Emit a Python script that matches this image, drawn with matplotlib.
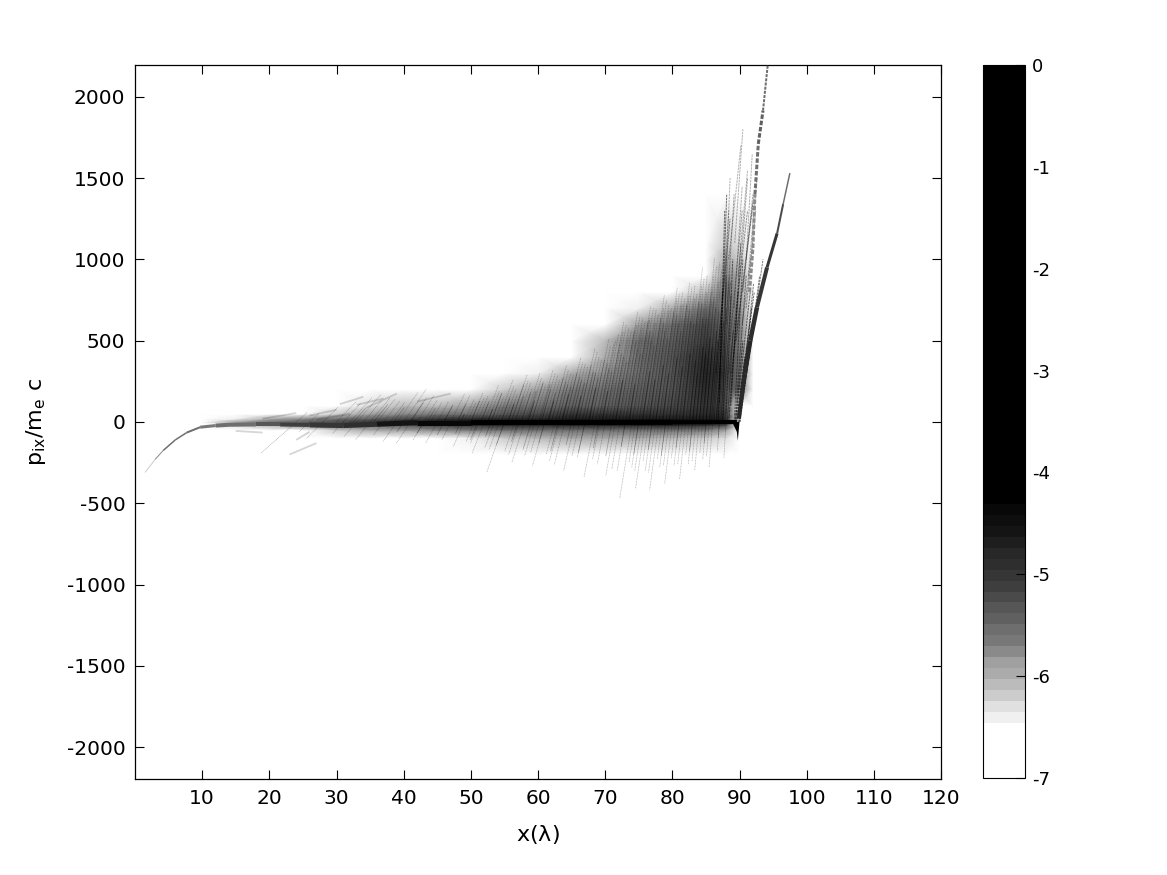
import numpy as np
import matplotlib
matplotlib.use("Agg")
import matplotlib.pyplot as plt
from matplotlib.collections import LineCollection
from matplotlib.colors import ListedColormap, Normalize
from matplotlib.cm import ScalarMappable

# --- colour steps (gray 0-255, bottom to top) ---
band_gray = [255, 255, 255, 255, 255, 240, 224, 204, 187, 171, 160, 138, 120, 110, 96,
             86, 74, 62, 54, 46, 40, 30, 20, 14, 8]
black_bands = 40

# --- log density ---
grid_x = [10, 15, 20, 25, 30, 35, 40, 45, 50, 55, 60, 65, 70, 75, 80, 85, 88, 90, 92]
grid_p = [-500, -400, -300, -200, -100, -50, -20, 0, 20, 50, 100, 200, 300, 400, 500, 600, 700, 800, 900, 1000, 1100, 1400, 1500]
grid_log = [
 [-7, -7, -7, -7, -7, -7, -7, -7, -7, -7, -7, -7, -7, -7, -7, -7, -7, -7, -7],
 [-7, -7, -7, -7, -7, -7, -7, -7, -7, -7, -7, -7, -7, -7, -7, -7, -7, -7, -7],
 [-7, -7, -7, -7, -7, -7, -7, -7, -7, -7, -7, -7, -6.9, -6.9, -6.9, -7, -7, -7, -7],
 [-7, -7, -7, -7, -7, -7, -7, -7, -7, -6.9, -6.7, -6.6, -6.5, -6.5, -6.5, -6.6, -6.8, -7, -7],
 [-7, -7, -7, -7, -7, -6.9, -6.8, -6.7, -6.4, -6.2, -6.1, -6.0, -6.0, -6.0, -6.1, -6.2, -6.3, -7, -7],
 [-7, -7, -6.9, -6.5, -6.2, -6.0, -5.9, -5.8, -5.7, -5.6, -5.6, -5.5, -5.5, -5.5, -5.6, -5.7, -5.9, -7, -7],
 [-7, -6.3, -6.0, -5.7, -5.6, -5.5, -5.3, -5.1, -5.0, -4.9, -4.9, -4.8, -4.8, -4.8, -4.8, -5.0, -5.2, -7, -7],
 [-7, -5.9, -5.6, -5.4, -5.2, -5.0, -4.7, -4.5, -4.4, -4.4, -4.3, -4.3, -4.3, -4.3, -4.3, -4.4, -4.6, -7, -7],
 [-7, -6.4, -6.0, -5.8, -5.6, -5.4, -5.2, -5.0, -4.9, -4.8, -4.8, -4.7, -4.7, -4.7, -4.7, -4.7, -4.8, -7, -7],
 [-7, -7, -6.8, -6.6, -6.2, -5.9, -5.8, -5.7, -5.5, -5.3, -5.2, -5.0, -5.0, -5.0, -5.0, -4.9, -5.0, -7, -7],
 [-7, -7, -7, -7, -6.6, -6.3, -6.1, -6.1, -5.9, -5.7, -5.6, -5.4, -5.4, -5.3, -5.2, -5.0, -5.2, -6.9, -7],
 [-7, -7, -7, -7, -7, -7, -6.9, -7, -6.6, -6.2, -5.9, -5.7, -5.6, -5.4, -5.3, -4.9, -5.2, -5.6, -7],
 [-7, -7, -7, -7, -7, -7, -7, -7, -7, -6.9, -6.4, -6.0, -5.8, -5.5, -5.3, -4.8, -5.1, -5.5, -7],
 [-7, -7, -7, -7, -7, -7, -7, -7, -7, -7, -7, -6.5, -6.0, -5.6, -5.3, -4.9, -5.2, -5.6, -7],
 [-7, -7, -7, -7, -7, -7, -7, -7, -7, -7, -7, -7, -6.1, -5.6, -5.4, -5.1, -5.3, -5.7, -6.8],
 [-7, -7, -7, -7, -7, -7, -7, -7, -7, -7, -7, -7, -6.6, -5.9, -5.6, -5.2, -5.4, -5.7, -6.8],
 [-7, -7, -7, -7, -7, -7, -7, -7, -7, -7, -7, -7, -7, -6.4, -6.0, -5.6, -5.5, -5.8, -6.8],
 [-7, -7, -7, -7, -7, -7, -7, -7, -7, -7, -7, -7, -7, -7, -6.5, -6.1, -5.6, -5.9, -6.9],
 [-7, -7, -7, -7, -7, -7, -7, -7, -7, -7, -7, -7, -7, -7, -7, -6.5, -5.8, -6.0, -7],
 [-7, -7, -7, -7, -7, -7, -7, -7, -7, -7, -7, -7, -7, -7, -7, -7, -6.0, -6.2, -7],
 [-7, -7, -7, -7, -7, -7, -7, -7, -7, -7, -7, -7, -7, -7, -7, -7, -6.2, -6.3, -7],
 [-7, -7, -7, -7, -7, -7, -7, -7, -7, -7, -7, -7, -7, -7, -7, -7, -6.7, -6.7, -7],
 [-7, -7, -7, -7, -7, -7, -7, -7, -7, -7, -7, -7, -7, -7, -7, -7, -7, -7, -7],
]

# --- central stream ---
spine_x = [1.5, 3.0, 4.2, 6.0, 7.7, 9.7, 12, 14, 18, 21.6, 26, 31, 36, 42, 50, 60, 70, 80, 86, 89.6]
spine_p = [-310, -230, -175, -110, -65, -32, -22, -17, -15, -15, -18, -22, -14, -4, -4, -3, -3, -2, -1, 0]
spine_px = [1, 1, 1.5, 1.5, 2, 3, 4, 4, 4, 4, 5, 5, 5, 5, 5, 5, 5, 4, 4, 4]
spine_level = [-6.2, -5.8, -5.6, -5.5, -5.6, -5.7, -5.6, -5.5, -5.3, -5.1, -5.0, -4.9, -4.6, -4.4, -4.3, -3.8, -2.5, -2.5, -3.0, -3.0]

tip_x = [88.9, 89.6, 89.75, 90.0]
tip_p = [0, -60, -115, 0]

# --- right edge of the emitted bunch ---
edge_x = [89.9, 90.8, 91.6, 92.6, 94.1, 95.6, 96.5, 97.5]
edge_p = [20, 300, 500, 705, 950, 1160, 1340, 1530]
edge_px = [4, 4.5, 4.5, 4, 3, 2, 1.5]
edge_level = [-4.8, -4.8, -4.9, -5.0, -5.0, -5.2, -5.5]

crest_x = [91.5, 92.0, 92.3, 92.8, 93.5, 94.2]
crest_p = [800, 1070, 1400, 1710, 1915, 2195]
crest_px = [3, 3, 3, 3, 2]
crest_level = [-5.8, -5.8, -5.6, -5.4, -5.6]

# --- up-going streaks: base x, top p ---
up_light_x = [24, 26, 28, 30, 31, 32, 33, 34, 35, 36, 37, 38, 39, 40, 41, 42, 43, 44, 45, 46, 47, 48, 49, 50,
              51, 52, 53, 54, 55, 56, 57, 58, 59, 60, 61, 62, 63, 64, 65, 66, 67, 68, 69, 70, 71, 72, 73, 74,
              75, 76, 77, 78, 79, 80, 81, 82, 83, 84, 85, 86,
              49.5, 50.5, 51.5, 52.5, 53.5, 54.5, 55.5, 56.5, 57.5, 58.5, 59.5, 60.5, 61.5, 62.5, 63.5, 64.5, 65.5, 66.5, 67.5, 68.5,
              69.5, 70.5, 71.5, 72.5, 73.5, 74.5, 75.5, 76.5, 77.5, 78.5, 79.5, 80.5, 81.5, 82.5, 83.5, 84.5, 85.5, 86.5,
              69.2, 70.2, 71.2, 72.2, 73.2, 74.2, 75.2, 76.2, 77.2, 78.2, 79.2, 80.2, 81.2, 82.2, 83.2, 84.2, 85.2]
up_light_top = [60, 55, 90, 125, 115, 150, 170, 130, 150, 140, 130, 120, 185, 200, 150, 165, 135, 120, 125, 110, 170, 165, 140, 180,
                160, 225, 175, 260, 200, 290, 240, 300, 250, 320, 290, 350, 300, 400, 360, 450, 400, 510, 480, 620, 580, 680, 640, 710,
                690, 780, 720, 830, 800, 860, 840, 950, 900, 1010, 980, 1060,
                120, 150, 130, 190, 150, 220, 170, 250, 210, 270, 230, 300, 260, 320, 290, 370, 340, 430, 380, 470,
                540, 600, 560, 650, 620, 700, 660, 750, 700, 790, 760, 830, 790, 880, 850, 960, 930, 1030,
                500, 560, 520, 600, 580, 640, 610, 700, 680, 760, 720, 780, 760, 840, 800, 900, 860]
up_mid_x = [32.5, 35.5, 38.5, 41, 43.5, 46, 48, 50, 51.5, 53, 54.5, 56, 57.5, 59, 60.5, 62, 63, 64, 65, 66, 67, 68, 69, 70,
            71, 72, 73, 74, 75, 76, 77, 78, 79, 80, 81, 82, 83, 84, 85, 86, 87,
            56.6, 58.3, 60.2, 61.4, 62.6, 63.6, 64.6, 65.6, 66.6, 67.6, 68.6, 69.6, 70.6, 71.6, 72.6, 73.6, 74.6, 75.6, 76.6, 77.6, 78.6, 79.6, 80.6, 81.6, 82.6, 83.6, 84.6, 85.6, 86.6]
up_mid_top = [90, 110, 90, 120, 85, 100, 110, 130, 120, 180, 150, 230, 180, 240, 200, 270, 230, 300, 260, 350, 300, 380, 330, 480,
              400, 560, 450, 620, 500, 640, 560, 680, 600, 720, 620, 740, 640, 800, 700, 820, 900,
              160, 190, 230, 180, 250, 220, 280, 240, 310, 270, 360, 310, 420, 370, 500, 420, 560, 470, 610, 520, 660, 560, 690, 600, 730, 640, 770, 680, 860]
up_dark_x = [48.5, 52.5, 55.5, 58.5, 61.5, 63.5, 65.5, 67.5, 69.5, 71.5, 73.5, 75.5, 76.5, 77.5, 78.5, 79.5,
             80.5, 81.5, 82.5, 83.5, 84.5, 85.5, 86.5, 87.5, 88.2,
             83.0, 84.0, 85.0, 85.8, 86.2, 86.8, 87.2]
up_dark_top = [50, 80, 110, 130, 130, 170, 160, 210, 190, 260, 230, 310, 260, 350, 300, 390,
               340, 420, 380, 460, 520, 560, 620, 780, 560,
               300, 420, 460, 500, 640, 700, 860]

# --- down-going streaks: base x, bottom p ---
down_light_x = [24, 26, 28, 31, 33, 35, 37, 39, 41, 43, 45, 47, 49, 50.5, 52, 53.5, 55, 56.5, 58, 59.5, 61, 62.5, 64, 65.5,
                67, 68.5, 70, 71.5, 73, 74, 75, 76, 77, 78, 79, 80, 81, 82, 83, 84, 85, 86, 87, 88,
                51.2, 54.2, 57.2, 60.2, 63.2, 66.2, 69.2, 72.2, 74.5, 75.5, 76.5, 77.5, 78.5, 79.5, 80.5, 81.5, 82.5, 83.5, 84.5, 85.5]
down_light_bot = [-190, -60, -100, -70, -90, -110, -80, -120, -130, -110, -130, -110, -150, -120, -190, -160, -310, -180, -250, -210, -270, -200, -260, -300,
                  -220, -340, -260, -330, -300, -470, -280, -410, -300, -420, -280, -380, -270, -350, -260, -300, -230, -280, -180, -220,
                  -130, -170, -200, -190, -240, -210, -230, -290, -250, -300, -240, -310, -230, -270, -220, -260, -200, -240, -190, -210]
down_mid_x = [40, 43, 46, 48.5, 51, 53, 55, 57, 59, 61, 63, 65, 67, 69, 71, 73, 75, 77, 79, 81, 83, 85, 87]
down_mid_bot = [-60, -70, -80, -70, -110, -90, -140, -120, -170, -130, -180, -140, -190, -160, -210, -150, -200, -170, -210, -160, -180, -130, -100]

# --- steep bundle beside the target edge: start x, start p, end x, end p, opacity ---
fan_x0 = [89.5, 89.4, 89.3, 89.2, 89.6, 89.9, 88.7, 88.4, 88.0, 87.5, 87.0, 86.8, 87.0, 86.5, 88.4, 88.8, 89.1, 89.5, 89.4, 90.0, 90.1, 89.9, 90.0, 87.8, 87.6, 88.4, 89.3, 91.0, 90.5, 91.3, 88.0, 88.6, 89.2, 89.8, 90.4, 91.0]
fan_p0 = [0, 0, 0, 0, 0, 0, 100, 0, 50, 0, 200, 0, 120, 300, 300, 300, 400, 500, 0, 0, 0, 0, 50, 700, 800, 1000, 1100, 700, 800, 900, 600, 500, 700, 900, 600, 1000]
fan_x1 = [92.2, 91.6, 91.0, 90.5, 90.8, 92.2, 90.2, 89.8, 89.0, 88.0, 88.1, 87.5, 87.8, 88.6, 91.2, 92.0, 91.2, 92.2, 90.5, 93.5, 93.0, 91.8, 92.1, 88.6, 88.4, 90.2, 90.5, 92.4, 92.0, 92.6, 89.2, 90.4, 90.4, 91.2, 92.0, 91.9]
fan_p1 = [800, 800, 900, 1000, 400, 600, 1100, 800, 1000, 900, 1400, 800, 1300, 1250, 1300, 1350, 1500, 1400, 500, 1000, 900, 700, 850, 1500, 1300, 1700, 1800, 1300, 1400, 1500, 1400, 1300, 1450, 1550, 1100, 1650]
fan_alpha = [.55, .55, .5, .5, .7, .7, .5, .55, .55, .5, .55, .5, .55, .45, .4, .4, .35, .35, .6, .5, .5, .5, .5, .3, .3, .3, .3, .35, .35, .35, .35, .35, .3, .3, .35, .3]

# --- faint isolated tails on the left: start x, start p, end x, end p ---
tail_x0 = [23.0, 24.0, 26.0, 30.5, 34.5, 27.0, 33.0, 42.0, 15.0, 19.0]
tail_p0 = [-200, -110, 40, 110, 90, 15, 105, 125, -55, 20]
tail_x1 = [27.0, 26.0, 30.0, 34.0, 39.0, 32.0, 37.0, 47.0, 19.0, 24.0]
tail_p1 = [-130, -60, 75, 155, 175, 50, 145, 175, -65, 55]

# --- lean of the streaks along x (x shift per 1000 in p) ---
lean_x = [20, 50, 60, 70, 80, 88]
lean_v = [30, 10, 7, 4.5, 3, 1.5]

x_ticks = [10, 20, 30, 40, 50, 60, 70, 80, 90, 100, 110, 120]
y_ticks = [-2000, -1500, -1000, -500, 0, 500, 1000, 1500, 2000]
cb_ticks = [-7, -6, -5, -4, -3, -2, -1, 0]

cols = [(g / 255, g / 255, g / 255) for g in band_gray] + [(0, 0, 0)] * black_bands
cmap = ListedColormap(cols)
norm = Normalize(-7, 0)

plt.rcParams['font.family'] = 'DejaVu Sans'
plt.rcParams['mathtext.default'] = 'regular'
plt.rcParams['axes.unicode_minus'] = False
fig = plt.figure(figsize=(11.67, 8.75), dpi=100)
W, H = 1167, 875
ax = fig.add_axes([135 / W, 1 - 779 / H, 806 / W, 714 / H])
cax = fig.add_axes([983 / W, 1 - 778 / H, 42 / W, 713 / H])

ax.pcolormesh(grid_x, grid_p, np.array(grid_log, dtype=float), cmap=cmap, norm=norm, shading='gouraud', zorder=1)


def streaks(x, y, alpha, lw, z, ls='-'):
    x = np.asarray(x, float)
    y = np.asarray(y, float)
    lean = np.interp(x, lean_x, lean_v)
    segs = [[(a, 0), (a + l * b / 1000, b)] for a, b, l in zip(x, y, lean)]
    ax.add_collection(LineCollection(segs, colors=[(0, 0, 0, alpha)], linewidths=lw, linestyles=ls, zorder=z))


def path(x, y, px, levels, z, ls='-'):
    segs = [[(x[i], y[i]), (x[i + 1], y[i + 1])] for i in range(len(x) - 1)]
    ax.add_collection(LineCollection(segs, colors=[cmap(norm(v)) for v in levels],
                                     linewidths=[w * 0.72 for w in px], linestyles=ls,
                                     capstyle='butt', zorder=z))


dots = (0, (1.2, 1.0))
streaks(up_light_x, up_light_top, .30, 0.55, 2, dots)
streaks(up_mid_x, up_mid_top, .26, 0.55, 3)
streaks(up_dark_x, up_dark_top, .40, 0.6, 4)
streaks(down_light_x, down_light_bot, .35, 0.5, 2, dots)
streaks(down_mid_x, down_mid_bot, .30, 0.5, 3)

fan_segs = [[(a, b), (c, d)] for a, b, c, d in zip(fan_x0, fan_p0, fan_x1, fan_p1)]
ax.add_collection(LineCollection(fan_segs, colors=[(0, 0, 0, v) for v in fan_alpha], linewidths=0.7,
                                 linestyles=(0, (2.5, 0.8)), zorder=5))
tail_segs = [[(a, b), (c, d)] for a, b, c, d in zip(tail_x0, tail_p0, tail_x1, tail_p1)]
ax.add_collection(LineCollection(tail_segs, colors=[(0, 0, 0, .16)], linewidths=1.3, zorder=2))

path(edge_x, edge_p, edge_px, edge_level, 5)
path(crest_x, crest_p, crest_px, crest_level, 5, (0, (1.5, 0.6)))
path(spine_x, spine_p, spine_px[:-1], spine_level[:-1], 6)
ax.fill(tip_x, tip_p, color='black', lw=0, zorder=6)

ax.set_xlim(0, 120)
ax.set_ylim(-2195, 2195)
ax.set_xticks(x_ticks)
ax.set_yticks(y_ticks)
ax.tick_params(direction='in', length=6.5, width=0.8, top=True, right=True, labelsize=14.5, pad=7, color='black')
ax.set_xlabel(r'x($\lambda$)', fontsize=16, labelpad=11)
ax.set_ylabel(r'p$_{ix}$/m$_e$ c', fontsize=16, labelpad=13)

cb = fig.colorbar(ScalarMappable(norm=norm, cmap=cmap), cax=cax)
cb.set_ticks(cb_ticks)
cb.ax.tick_params(direction='in', length=6.5, width=0.8, labelsize=13, pad=5)
cb.outline.set_linewidth(0.8)
for s in ax.spines.values():
    s.set_linewidth(0.9)

fig.savefig('out.png', dpi=100)
